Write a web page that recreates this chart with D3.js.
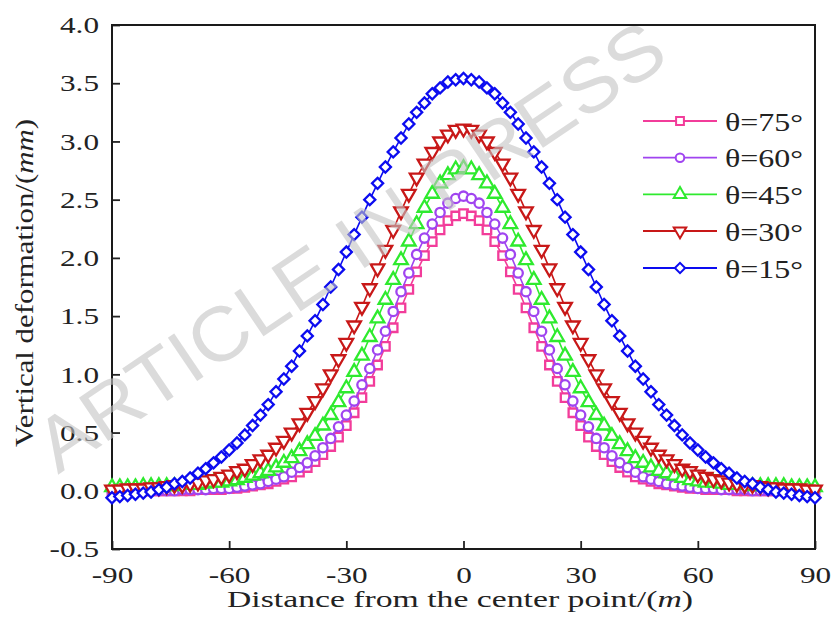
<!DOCTYPE html>
<html>
<head>
<meta charset="utf-8">
<script src="https://cdn.jsdelivr.net/npm/d3@7"></script>
<style>
    body { margin: 0; background: #fff; }
    text { font-family: "Liberation Serif", "Times New Roman", serif; fill: #222; }
</style>
</head>
<body>
<svg id="chart" width="835" height="625"></svg>
<script>
// distance from the center point (m)
const distance = [-90,-88,-86,-84,-82,-80,-78,-76,-74,-72,-70,-68,-66,-64,-62,-60,-58,-56,-54,-52,
    -50,-48,-46,-44,-42,-40,-38,-36,-34,-32,-30,-28,-26,-24,-22,-20,-18,-16,-14,-12,-10,-8,-6,-4,-2,
    0,2,4,6,8,10,12,14,16,18,20,22,24,26,28,30,32,34,36,38,40,42,44,46,48,50,
    52,54,56,58,60,62,64,66,68,70,72,74,76,78,80,82,84,86,88,90];

// vertical deformation (mm)
const theta75 = [0,0,0,0,0,0,0,0,0,0,0,0.01,0.01,0.01,0.01,0.02,0.02,0.03,0.04,0.05,0.06,0.08,0.10,0.12,0.16,
    0.20,0.25,0.31,0.38,0.46,0.56,0.67,0.80,0.94,1.08,1.24,1.40,1.57,1.73,1.88,2.02,2.14,2.24,2.32,2.36,
    2.38,
    2.36,2.32,2.24,2.14,2.02,1.88,1.73,1.57,1.40,1.24,1.08,0.94,0.80,0.67,0.56,0.46,0.38,0.31,0.25,0.20,
    0.16,0.12,0.10,0.08,0.06,0.05,0.04,0.03,0.02,0.02,0.01,0.01,0.01,0.01,0,0,0,0,0,0,0,0,0,0,0];

const theta60 = [0,0,0,0,0,0,0,0,0,0.01,0.01,0.01,0.01,0.02,0.02,0.02,0.03,0.04,0.05,0.06,0.08,0.10,0.12,
    0.16,0.20,0.24,0.30,0.37,0.45,0.55,0.65,0.77,0.91,1.05,1.21,1.37,1.54,1.71,1.87,2.03,2.17,2.29,2.39,2.47,2.51,
    2.53,
    2.51,2.47,2.39,2.29,2.17,2.03,1.87,1.71,1.54,1.37,1.21,1.05,0.91,0.77,0.65,0.55,0.45,0.37,0.30,0.24,
    0.20,0.16,0.12,0.10,0.08,0.06,0.05,0.04,0.03,0.02,0.02,0.02,0.01,0.01,0.01,0.01,0,0,0,0,0,0,0,0,0];

const theta45 = [0.03,0.03,0.03,0.03,0.04,0.04,0.04,0.04,0.04,0.05,0.05,0.05,0.06,0.07,0.07,0.08,0.09,0.11,
    0.13,0.15,0.17,0.20,0.24,0.28,0.34,0.40,0.47,0.56,0.65,0.76,0.88,1.02,1.16,1.32,1.48,1.64,1.81,1.98,2.14,
    2.29,2.43,2.55,2.64,2.71,2.76,
    2.77,
    2.76,2.71,2.64,2.55,2.43,2.29,2.14,1.98,1.81,1.64,1.48,1.32,1.16,1.02,0.88,0.76,0.65,0.56,0.47,0.40,
    0.34,0.28,0.24,0.20,0.17,0.15,0.13,0.11,0.09,0.08,0.07,0.07,0.06,0.05,0.05,0.05,0.04,0.04,0.04,0.04,
    0.04,0.03,0.03,0.03,0.03];

const theta30 = [0.01,0.01,0.02,0.02,0.02,0.03,0.03,0.04,0.05,0.05,0.06,0.07,0.09,0.10,0.12,0.14,0.17,0.19,
    0.23,0.27,0.31,0.37,0.43,0.50,0.58,0.67,0.77,0.88,1.00,1.13,1.27,1.42,1.58,1.74,1.91,2.07,2.24,2.40,2.55,
    2.69,2.81,2.91,3.00,3.06,3.10,
    3.11,
    3.10,3.06,3.00,2.91,2.81,2.69,2.55,2.40,2.24,2.07,1.91,1.74,1.58,1.42,1.27,1.13,1.00,0.88,0.77,0.67,
    0.58,0.50,0.43,0.37,0.31,0.27,0.23,0.19,0.17,0.14,0.12,0.10,0.09,0.07,0.06,0.05,0.05,0.04,0.03,0.03,
    0.02,0.02,0.02,0.01,0.01];

const theta15 = [-0.06,-0.05,-0.04,-0.03,-0.02,-0.01,0.01,0.03,0.06,0.08,0.11,0.15,0.19,0.24,0.29,0.35,0.41,
    0.48,0.56,0.65,0.74,0.85,0.96,1.07,1.20,1.33,1.46,1.60,1.75,1.90,2.05,2.20,2.35,2.50,2.64,2.78,2.91,3.03,
    3.15,3.25,3.33,3.41,3.46,3.51,3.53,
    3.54,
    3.53,3.51,3.46,3.41,3.33,3.25,3.15,3.03,2.91,2.78,2.64,2.50,2.35,2.20,2.05,1.90,1.75,1.60,1.46,1.33,
    1.20,1.07,0.96,0.85,0.74,0.65,0.56,0.48,0.41,0.35,0.29,0.24,0.19,0.15,0.11,0.08,0.06,0.03,0.01,
    -0.01,-0.02,-0.03,-0.04,-0.05,-0.06];

const seriesNames = ["θ=75°", "θ=60°", "θ=45°", "θ=30°", "θ=15°"];
const seriesValues = [theta75, theta60, theta45, theta30, theta15];

const xTicks = [-90, -60, -30, 0, 30, 60, 90];
const yTicks = [-0.5, 0.0, 0.5, 1.0, 1.5, 2.0, 2.5, 3.0, 3.5, 4.0];

const colors = ["#f23c9a", "#a044f0", "#2eea2e", "#c81818", "#0c0cf0"];
const symbols = [
    {type: d3.symbolSquare, size: 72, rot: 0},
    {type: d3.symbolCircle, size: 68, rot: 0},
    {type: d3.symbolTriangle, size: 80, rot: 0},
    {type: d3.symbolTriangle, size: 80, rot: 180},
    {type: d3.symbolSquare, size: 62, rot: 45}
];

const svg = d3.select("#chart");
const plotLeft = 112, plotRight = 815, plotTop = 25, plotBottom = 549;

const x = d3.scaleLinear().domain([-90, 90]).range([plotLeft, plotRight]);
const y = d3.scaleLinear().domain([-0.5, 4.0]).range([plotBottom, plotTop]);

// the source figure is stretched sideways, so widen the text to match
function widen(sel, k) {
    sel.each(function() {
        const w = this.getComputedTextLength();
        d3.select(this).attr("textLength", w * k).attr("lengthAdjust", "spacingAndGlyphs");
    });
}

// axes
const xAxis = d3.axisBottom(x).tickValues(xTicks).tickSizeInner(-8).tickSizeOuter(0)
    .tickPadding(17).tickFormat(d => String(d));
const yAxis = d3.axisLeft(y).tickValues(yTicks).tickSizeInner(-8).tickSizeOuter(0)
    .tickPadding(13).tickFormat(d => d.toFixed(1));

const gx = svg.append("g").attr("transform", `translate(0,${plotBottom})`).call(xAxis);
const gy = svg.append("g").attr("transform", `translate(${plotLeft},0)`).call(yAxis);

[gx, gy].forEach(g => {
    g.select(".domain").remove();
    g.selectAll(".tick line").attr("stroke", "#222").attr("stroke-width", 1.8);
    g.selectAll(".tick text").attr("font-size", 24).attr("fill", "#222")
        .style("font-family", "'Liberation Serif', serif");
});
widen(gx.selectAll(".tick text"), 1.3);
widen(gy.selectAll(".tick text"), 1.3);

// frame
svg.append("rect")
    .attr("x", plotLeft).attr("y", plotTop)
    .attr("width", plotRight - plotLeft).attr("height", plotBottom - plotTop)
    .attr("fill", "none").attr("stroke", "#1a1a1a").attr("stroke-width", 2);

// axis titles
const xTitle = svg.append("text")
    .attr("x", 460).attr("y", 607)
    .attr("text-anchor", "middle")
    .attr("font-size", 23);
xTitle.append("tspan").text("Distance from the center point/(");
xTitle.append("tspan").attr("font-style", "italic").text("m");
xTitle.append("tspan").text(")");
xTitle.attr("textLength", 466).attr("lengthAdjust", "spacingAndGlyphs");

const yTitle = svg.append("text")
    .attr("transform", "translate(33,283) rotate(-90)")
    .attr("text-anchor", "middle")
    .attr("font-size", 25);
yTitle.append("tspan").text("Vertical deformation/(");
yTitle.append("tspan").attr("font-style", "italic").text("mm");
yTitle.append("tspan").text(")");
yTitle.attr("textLength", 328).attr("lengthAdjust", "spacingAndGlyphs");

// series
const line = d3.line().x(d => x(d[0])).y(d => y(d[1]));

seriesValues.forEach((vals, i) => {
    const pts = distance.map((d, j) => [d, vals[j]]);
    const g = svg.append("g").attr("class", "series");
    g.append("path")
        .datum(pts)
        .attr("d", line)
        .attr("fill", "none")
        .attr("stroke", colors[i])
        .attr("stroke-width", 1.6);
    const sym = d3.symbol().type(symbols[i].type).size(symbols[i].size);
    g.selectAll("path.marker")
        .data(pts)
        .join("path")
        .attr("class", "marker")
        .attr("d", sym)
        .attr("transform", d => `translate(${x(d[0])},${y(d[1])}) rotate(${symbols[i].rot})`)
        .attr("fill", "#fff")
        .attr("stroke", colors[i])
        .attr("stroke-width", 2.3);
});

// legend
const legend = svg.append("g");
const legendY = [121, 157.7, 194.3, 231, 268];
seriesNames.forEach((name, i) => {
    const row = legend.append("g").attr("transform", `translate(0,${legendY[i]})`);
    row.append("line")
        .attr("x1", 643).attr("x2", 717)
        .attr("stroke", colors[i]).attr("stroke-width", 1.8);
    row.append("path")
        .attr("d", d3.symbol().type(symbols[i].type).size(symbols[i].size * 0.85)())
        .attr("transform", `translate(680,0) rotate(${symbols[i].rot})`)
        .attr("fill", "#fff").attr("stroke", colors[i]).attr("stroke-width", 2);
    row.append("text")
        .attr("x", 725).attr("y", 9.5)
        .attr("font-size", 26)
        .text(name)
        .attr("textLength", 78).attr("lengthAdjust", "spacingAndGlyphs");
});

// watermark
svg.append("text")
    .attr("transform", "translate(350,246) rotate(-34)")
    .attr("text-anchor", "middle")
    .attr("dominant-baseline", "central")
    .attr("font-size", 76)
    .attr("textLength", 740)
    .attr("lengthAdjust", "spacingAndGlyphs")
    .style("font-family", "'Liberation Sans', Arial, sans-serif")
    .style("fill", "#c4c4c4")
    .style("opacity", 0.6)
    .text("ARTICLE IN PRESS");
</script>
</body>
</html>
